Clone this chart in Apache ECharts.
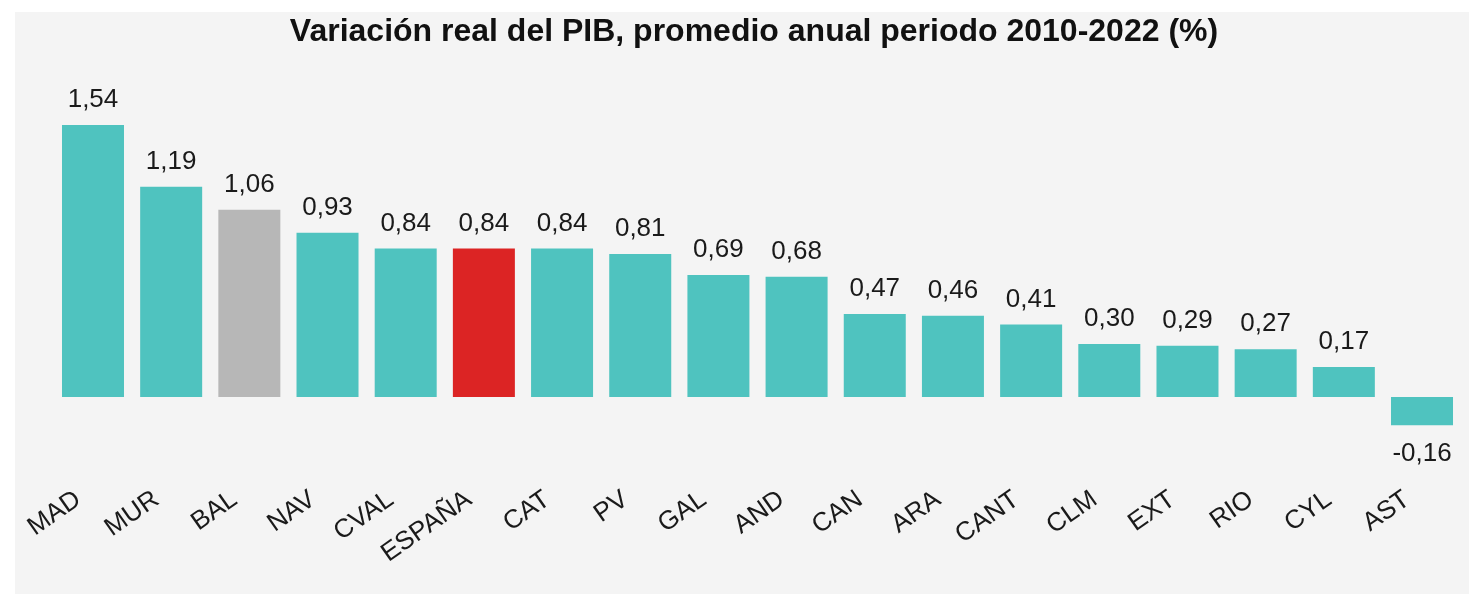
<!DOCTYPE html>
<html>
<head>
<meta charset="utf-8">
<script src="https://cdn.jsdelivr.net/npm/echarts@6/dist/echarts.min.js"></script>
<style>
  html, body { margin: 0; padding: 0; background: #ffffff; }
  #chart { position: absolute; left: 15px; top: 12px; width: 1454px; height: 582px; background: #f4f4f4; }
</style>
</head>
<body>
<div id="chart"></div>
<script>
// Regiones ordenadas por crecimiento medio del PIB real
const categories = ['MAD', 'MUR', 'BAL', 'NAV', 'CVAL', 'ESPAÑA', 'CAT', 'PV', 'GAL', 'AND',
                    'CAN', 'ARA', 'CANT', 'CLM', 'EXT', 'RIO', 'CYL', 'AST'];
const values = [1.54, 1.19, 1.06, 0.93, 0.84, 0.84, 0.84, 0.81, 0.69, 0.68,
                0.47, 0.46, 0.41, 0.30, 0.29, 0.27, 0.17, -0.16];
const highlightNational = 'ESPAÑA';
const highlightGray = 'BAL';

const TEAL = '#4fc3bf';
const GRAY = '#b7b7b7';
const RED = '#dc2424';
const FONT = '"Liberation Sans", Arial, sans-serif';

const fmt = v => v.toFixed(2).replace('.', ',');

const seriesData = values.map((v, i) => {
  const name = categories[i];
  const color = name === highlightNational ? RED : (name === highlightGray ? GRAY : TEAL);
  const neg = v < 0;
  return {
    value: v,
    itemStyle: { color },
    label: { position: neg ? 'bottom' : 'top', distance: neg ? 16 : 12 }
  };
});

const chart = echarts.init(document.getElementById('chart'), null, { renderer: 'canvas' });
chart.setOption({
  backgroundColor: '#f4f4f4',
  animation: false,
  title: {
    text: 'Variación real del PIB, promedio anual periodo 2010-2022 (%)',
    left: 734,
    textAlign: 'center',
    top: -1,
    textStyle: { fontFamily: FONT, fontSize: 32, fontWeight: 'bold', color: '#111111' }
  },
  grid: { left: 38.9, right: 7.9, top: 102.4, bottom: 126.4, containLabel: false },
  xAxis: {
    type: 'category',
    data: categories,
    axisLine: { show: false, onZero: false },
    axisTick: { show: false },
    axisLabel: {
      interval: 0,
      rotate: 35,
      margin: 19,
      padding: [0, 18, 0, 0],
      fontFamily: FONT,
      fontSize: 26,
      color: '#1a1a1a'
    }
  },
  yAxis: {
    type: 'value',
    min: -0.4,
    max: 1.6,
    show: false,
    splitLine: { show: false }
  },
  series: [{
    type: 'bar',
    data: seriesData,
    barWidth: 62,
    label: {
      show: true,
      fontFamily: FONT,
      fontSize: 26,
      color: '#1a1a1a',
      formatter: p => fmt(p.value)
    }
  }]
});
</script>
</body>
</html>
